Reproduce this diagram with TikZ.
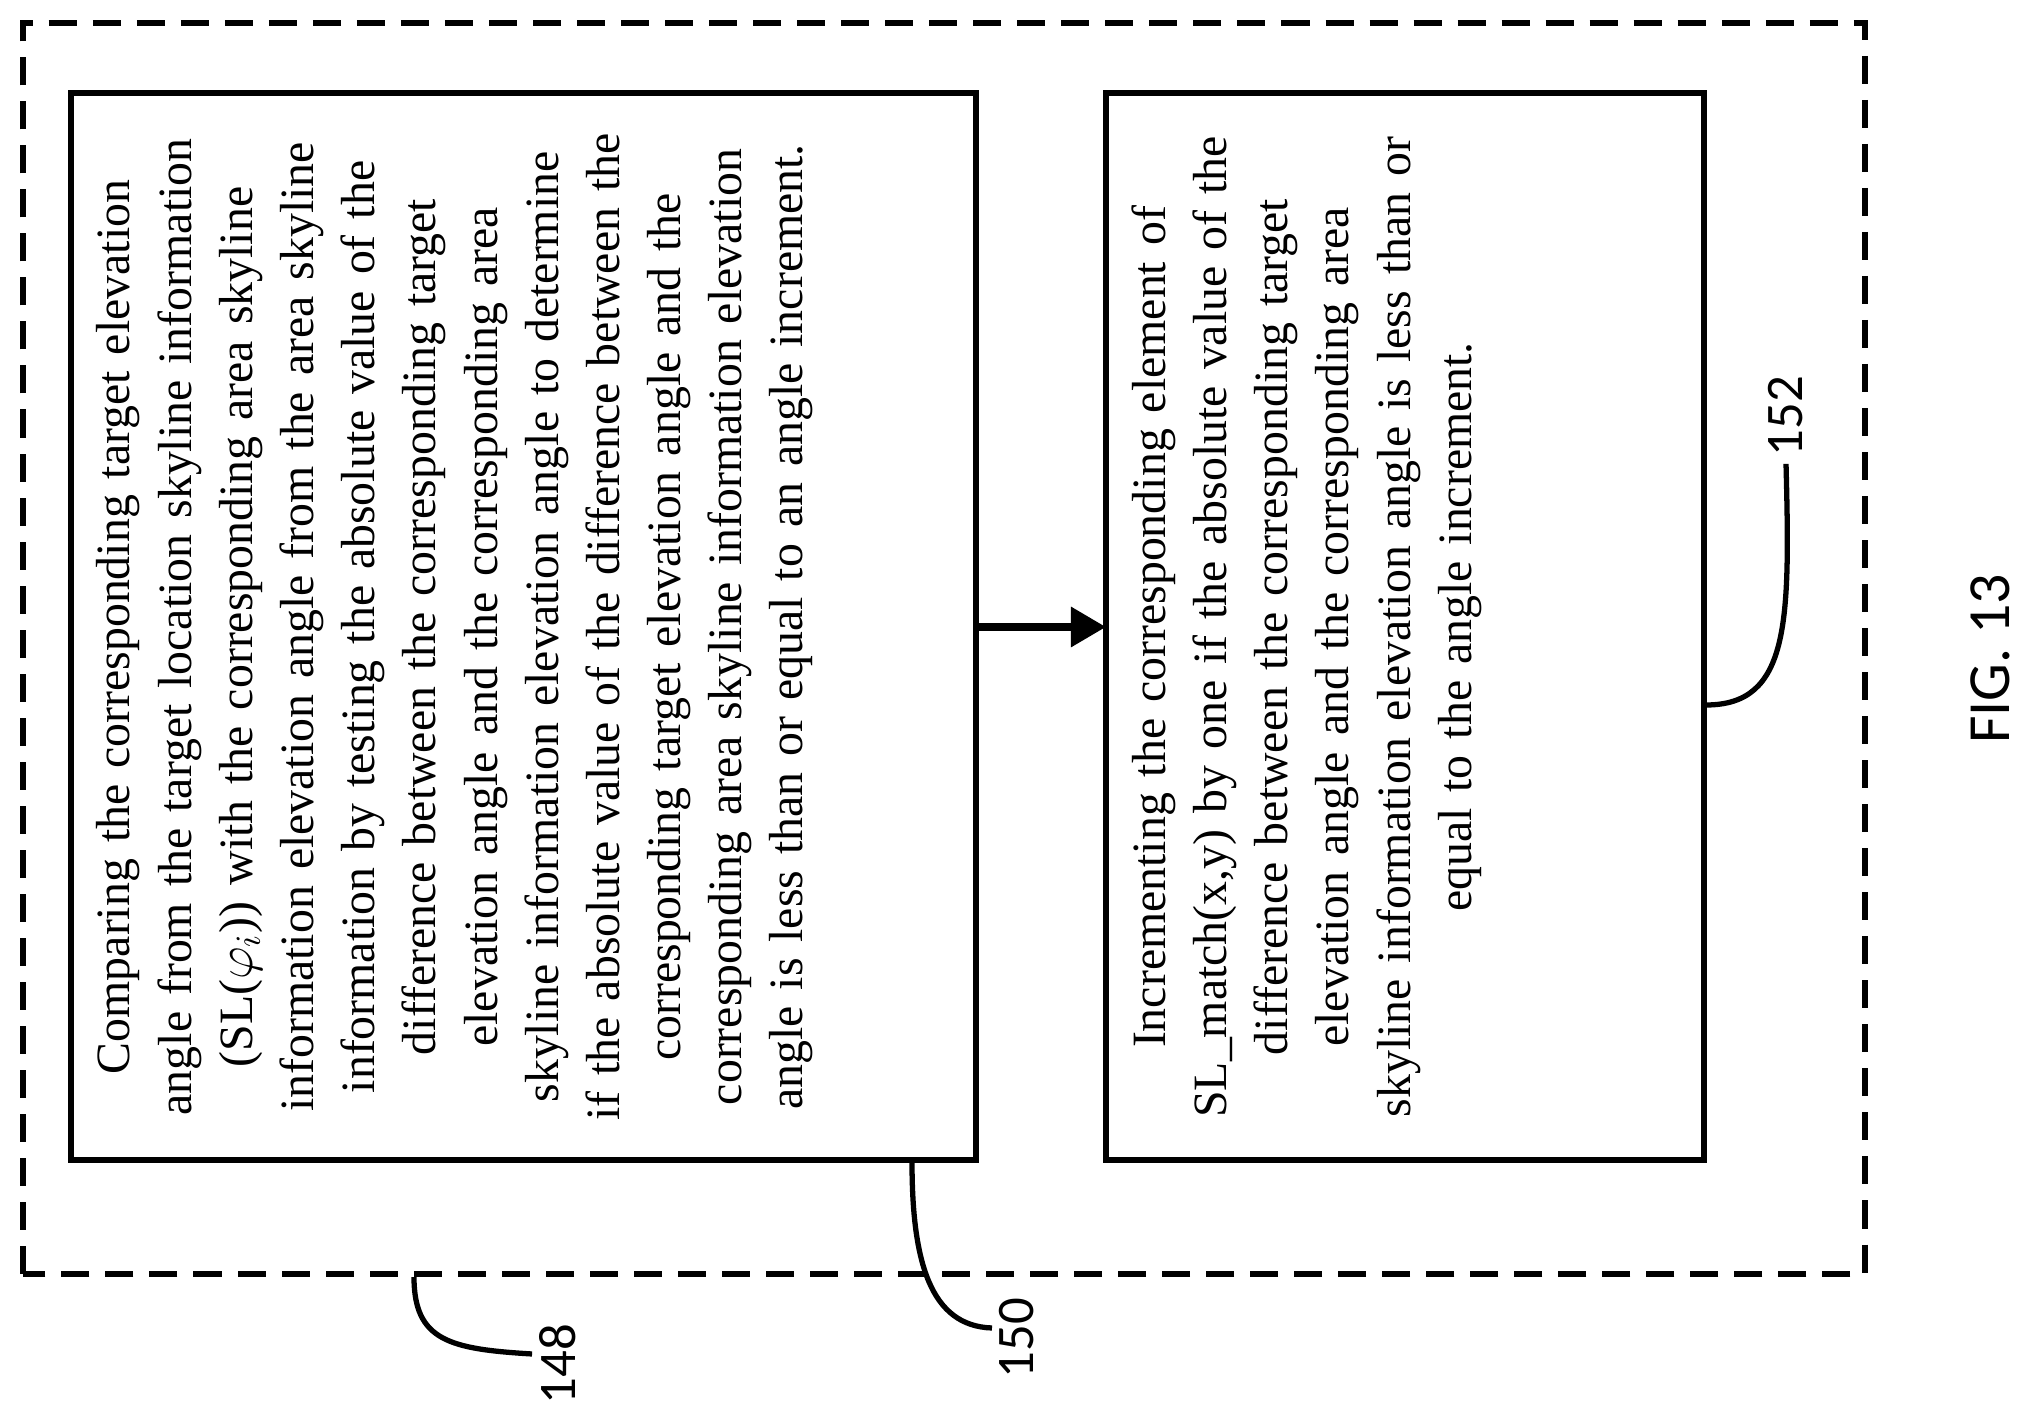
\documentclass[tikz,border=0pt]{standalone}
\usepackage{fontspec}
\setmainfont{Liberation Serif}
\newfontfamily\labelfont{Carlito}
\usetikzlibrary{arrows.meta}
\tikzset{
  stepbox/.style={draw, line width=1.5pt},
  steptext/.style={rotate=90, anchor=north, text width=10.2cm, align=center,
    font=\fontsize{13.6}{17.4}\selectfont, inner sep=0pt},
  reflabel/.style={rotate=90, font=\labelfont\fontsize{15}{18}\selectfont, inner sep=2pt},
  leader/.style={line width=1.5pt},
}
\begin{document}
\begin{tikzpicture}[x=0.01cm, y=0.01cm]
  \useasboundingbox (0,0) rectangle (2028,1421);
  % Outer group
  \draw[line width=1.8pt, dash pattern=on 0.28cm off 0.16cm] (23,147) rectangle (1865,1398);
  % Steps
  \draw[stepbox] (71,261) rectangle (976,1328);
  \draw[stepbox] (1106,261) rectangle (1704,1328);
  \coordinate (s1) at (976,794);
  \coordinate (s2) at (1106,794);
  \draw[line width=2.2pt, -{Triangle[length=10pt,width=11pt]}] (s1) -- (s2);

  \node[steptext] (t150) at (96,794) {Comparing the corresponding target elevation\\
    angle from the target location skyline information\\
    (SL($\varphi_i$)) with the corresponding area skyline\\
    information elevation angle from the area skyline\\
    information by testing the absolute value of the\\
    difference between the corresponding target\\
    elevation angle and the corresponding area\\
    skyline information elevation angle to determine\\
    if the absolute value of the difference between the\\
    corresponding target elevation angle and the\\
    corresponding area skyline information elevation\\
    angle is less than or equal to an angle increment.};
  \node[steptext] (t152) at (1131,794) {Incrementing the corresponding element of\\
    SL\_match(x,y) by one if the absolute value of the\\
    difference between the corresponding target\\
    elevation angle and the corresponding area\\
    skyline information elevation angle is less than or\\
    equal to the angle increment.};

  % Reference numerals
  \node[reflabel] (n148) at (558,57) {148};
  \node[reflabel] (n150) at (1017,83) {150};
  \node[reflabel] (n152) at (1786,1005) {152};
  \node[rotate=90, font=\labelfont\fontsize{17}{20}\selectfont] (fig) at (1990,762) {FIG. 13};

  \coordinate (a148) at (414,144);
  \coordinate (a150) at (912,259);
  \coordinate (a152) at (1706,716);
  \draw[leader] (a148) .. controls (414,80) and (450,72) .. ([yshift=0.1cm]n148.north);
  \draw[leader] (a150) .. controls (912,160) and (930,95) .. ([yshift=0.1cm]n150.north);
  \draw[leader] (a152) .. controls (1790,716) and (1790,800) .. (n152.west);
\end{tikzpicture}
\end{document}
